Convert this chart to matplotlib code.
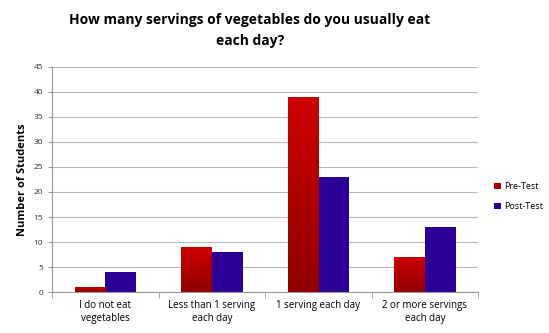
import numpy as np
import matplotlib
matplotlib.use('Agg')
from matplotlib import pyplot as plt
from matplotlib.colors import LinearSegmentedColormap

# data
categories = ['I do not eat\nvegetables', 'Less than 1 serving\neach day',
              '1 serving each day', '2 or more servings\neach day']
pre_test = [1, 9, 39, 7]
post_test = [4, 8, 23, 13]

plt.rcParams['font.family'] = ['Open Sans', 'DejaVu Sans']

fig = plt.figure(figsize=(5.49, 3.33), dpi=100)
ax = fig.add_axes([0.095, 0.123, 0.776, 0.676])

x = np.arange(len(categories))
w = 0.29
red_bars = ax.bar(x - w / 2, pre_test, w, color='#b00000', label='Pre-Test', zorder=2)
blue_bars = ax.bar(x + w / 2, post_test, w, color='#2a0096', label='Post-Test', zorder=2)

# vertical gradient on the red bars, like the office chart
red_cmap = LinearSegmentedColormap.from_list('r', ['#900000', '#d00000'])
grad = np.linspace(0, 1, 256).reshape(-1, 1)
for b in red_bars:
    x0, y0 = b.get_x(), b.get_y()
    im = ax.imshow(grad, cmap=red_cmap, origin='lower', aspect='auto',
                   extent=[x0, x0 + b.get_width(), y0, y0 + b.get_height()], zorder=2)
    im.set_clip_path(b)

ax.set_xlim(-0.5, 3.5)
ax.set_ylim(0, 45)
ax.set_yticks(range(0, 46, 5))
ax.yaxis.grid(True, color='#b8b8b8', linewidth=0.8, zorder=0)
ax.set_axisbelow(True)
ax.set_xticks(x)
ax.set_xticklabels(categories, fontsize=7)
ax.tick_params(axis='y', labelsize=6, length=3, color='#999999', labelcolor='#333333')
ax.tick_params(axis='x', length=0, pad=6)
# category separators
ax.set_xticks(np.arange(-0.5, 4, 1), minor=True)
ax.tick_params(axis='x', which='minor', length=4, color='#999999')
for s in ['top', 'right']:
    ax.spines[s].set_visible(False)
for s in ['left', 'bottom']:
    ax.spines[s].set_color('#999999')

ax.set_ylabel('Number of Students', fontsize=8, fontweight='bold')
fig.suptitle('How many servings of vegetables do you usually eat\neach day?',
             x=0.455, y=0.96, fontsize=10, fontweight='bold', linespacing=1.6)

leg = fig.legend(handles=[red_bars, blue_bars], labels=['Pre-Test', 'Post-Test'],
                 loc='center left', bbox_to_anchor=(0.885, 0.41), frameon=False,
                 fontsize=6.5, handlelength=0.8, handleheight=0.6, labelspacing=1.2,
                 handletextpad=0.3)

fig.savefig('out.png', dpi=100)
